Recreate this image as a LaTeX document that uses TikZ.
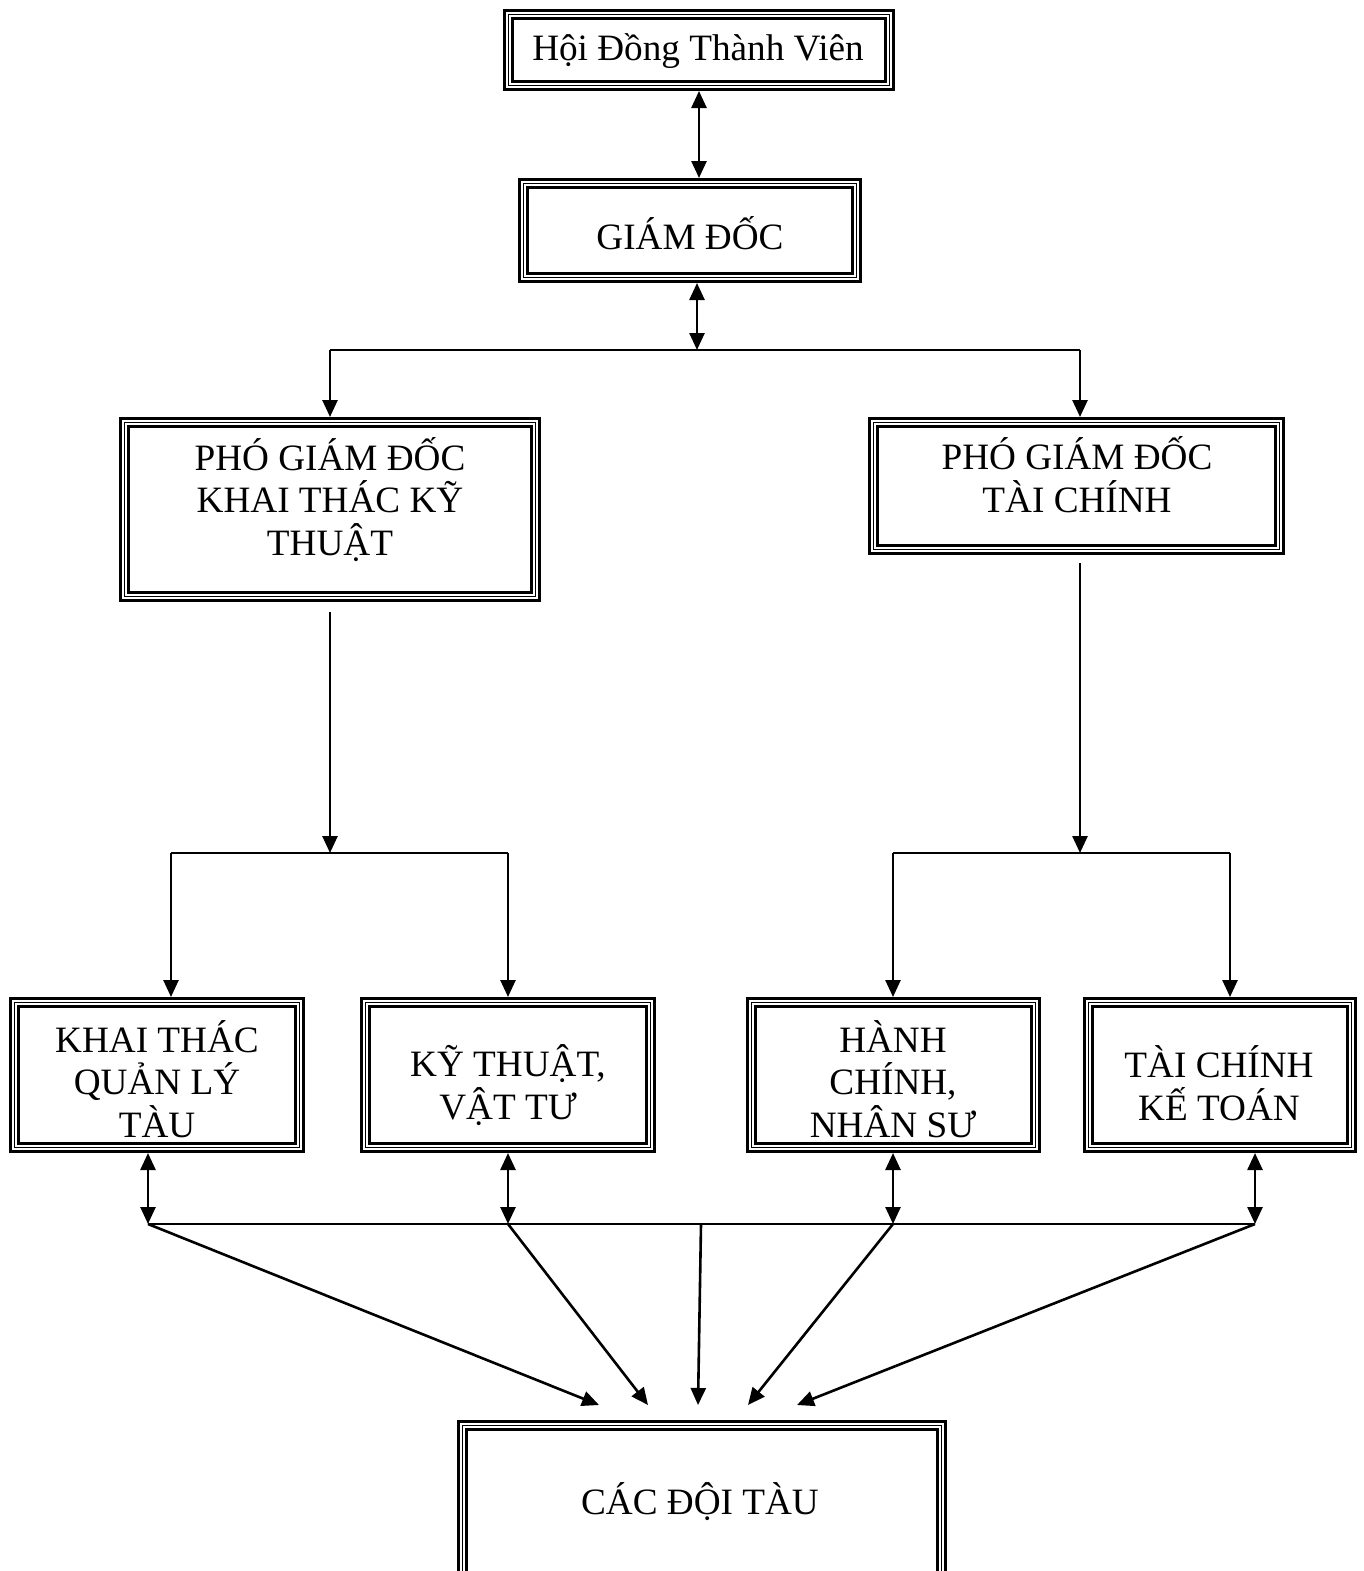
\documentclass[tikz,border=0pt]{standalone}
\usepackage{fontspec}
\setmainfont{Liberation Serif}
\usetikzlibrary{arrows.meta}
\begin{document}
\begin{tikzpicture}[x=1pt,y=-1pt,
  tribox/.style={rectangle, inner sep=0pt, outer sep=5.5pt, draw=black, line width=1pt,
    preaction={draw=black, line width=11pt}, preaction={draw=white, line width=5pt}},
  lbl/.style={align=center, inner sep=0pt, anchor=base, font=\fontsize{37.2pt}{42.5pt}\selectfont},
  conn/.style={line width=2.6pt, -{Triangle[length=17pt,width=15pt]}},
  biconn/.style={line width=2.6pt, {Triangle[length=17pt,width=15pt]}-{Triangle[length=17pt,width=15pt]}},
  plain/.style={line width=2.4pt}]
\clip (0,0) rectangle (1364,1571);
\fill[white] (0,0) rectangle (1364,1571);

% boxes
\node[tribox, minimum width=381pt, minimum height=71pt] (hdtv) at (699,50) {};
\node[tribox, minimum width=333pt, minimum height=94pt] (gd) at (690,230.5) {};
\node[tribox, minimum width=411pt, minimum height=174pt] (pk) at (330,509.5) {};
\node[tribox, minimum width=406pt, minimum height=127pt] (pt) at (1076.5,486) {};
\node[tribox, minimum width=285pt, minimum height=145pt] (k1) at (157,1075) {};
\node[tribox, minimum width=285pt, minimum height=145pt] (k2) at (508,1075) {};
\node[tribox, minimum width=284pt, minimum height=145pt] (k3) at (893.5,1075) {};
\node[tribox, minimum width=263pt, minimum height=145pt] (k4) at (1220,1075) {};
\node[tribox, minimum width=479pt, minimum height=209pt] (dt) at (702,1530) {};

% labels (anchor base = baseline of the last line)
\node[lbl] (thdtv) at (698,61) {Hội Đồng Thành Viên};
\node[lbl] (tgd) at (690,249) {GIÁM ĐỐC};
\node[lbl] (tpk) at (330,555) {PHÓ GIÁM ĐỐC\\KHAI THÁC KỸ\\THUẬT};
\node[lbl] (tpt) at (1077,512) {PHÓ GIÁM ĐỐC\\TÀI CHÍNH};
\node[lbl] (tk1) at (157,1137) {KHAI THÁC\\QUẢN LÝ\\TÀU};
\node[lbl] (tk2) at (508,1119) {KỸ THUẬT,\\VẬT TƯ};
\node[lbl] (tk3) at (893,1137) {HÀNH\\CHÍNH,\\NHÂN SƯ};
\node[lbl] (tk4) at (1219,1120) {TÀI CHÍNH\\KẾ TOÁN};
\node[lbl] (tdt) at (700,1514) {CÁC ĐỘI TÀU};

% top part
\coordinate (j1) at (697,350);
\coordinate (j1l) at (330,350);
\coordinate (j1r) at (1080,350);
\draw[biconn] (hdtv.south) -- (hdtv.south |- gd.north);
\draw[biconn] (gd.south -| j1) -- (j1);
\draw[plain] (j1l) -- (j1r);
\draw[conn] (j1l) -- (j1l |- pk.north);
\draw[conn] (j1r) -- (j1r |- pt.north);

% left branch
\coordinate (j2) at (330,853);
\coordinate (j2l) at (171,853);
\coordinate (j2r) at (508,853);
\draw[conn] ([yshift=-10pt]pk.south) -- (j2);
\draw[plain] (j2l) -- (j2r);
\draw[conn] (j2l) -- (j2l |- k1.north);
\draw[conn] (j2r) -- (j2r |- k2.north);

% right branch
\coordinate (j3) at (1080,853);
\coordinate (j3l) at (893,853);
\coordinate (j3r) at (1230,853);
\draw[conn] ([yshift=-8pt]pt.south -| j3) -- (j3);
\draw[plain] (j3l) -- (j3r);
\draw[conn] (j3l) -- (j3l |- k3.north);
\draw[conn] (j3r) -- (j3r |- k4.north);

% bottom bus
\coordinate (b1) at (148,1224);
\coordinate (b2) at (508,1224);
\coordinate (bm) at (701,1224);
\coordinate (b3) at (893,1224);
\coordinate (b4) at (1255,1224);
\draw[biconn] (k1.south -| b1) -- (b1);
\draw[biconn] (k2.south -| b2) -- (b2);
\draw[biconn] (k3.south -| b3) -- (b3);
\draw[biconn] (k4.south -| b4) -- (b4);
\draw[plain] (b1) -- (b4);

% fan to fleets
\coordinate (e1) at (599,1405);
\coordinate (e2) at (648,1405);
\coordinate (e3) at (698,1405);
\coordinate (e4) at (748,1405);
\coordinate (e5) at (797,1405);
\draw[conn] (b1) -- (e1);
\draw[conn] (b2) -- (e2);
\draw[conn] (bm) -- (e3);
\draw[conn] (b3) -- (e4);
\draw[conn] (b4) -- (e5);
\end{tikzpicture}
\end{document}
